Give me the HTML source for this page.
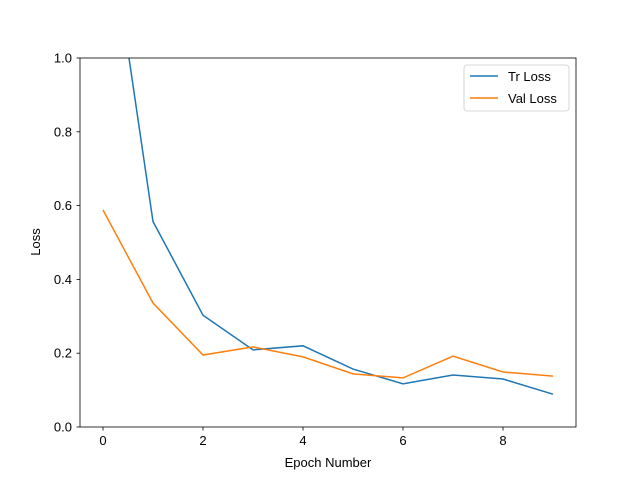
<!DOCTYPE html>
<html><head><meta charset="utf-8"><style>body{margin:0;background:#fff}svg{display:block;font-family:"Liberation Sans","DejaVu Sans",sans-serif}</style></head>
<body>
<svg id="chart" width="640" height="480">
<defs><clipPath id="clip"><rect x="80" y="58" width="496" height="369"/></clipPath></defs>
<rect x="0" y="0" width="640" height="480" fill="#fff"/>
<g id="axes"></g>
<g id="lines" clip-path="url(#clip)"></g>
<rect x="80" y="58" width="496" height="369" fill="none" stroke="#000" stroke-width="0.8"/>
<text x="328" y="467" text-anchor="middle" font-size="13">Epoch Number</text>
<text x="40" y="242" text-anchor="middle" font-size="13" transform="rotate(-90 40 242)">Loss</text>
<g>
<rect x="464" y="65" width="105" height="46" rx="3" fill="#fff" stroke="#ccc" stroke-width="0.8"/>
<line x1="470" y1="76" x2="498" y2="76" stroke="#1f77b4" stroke-width="1.5"/>
<text x="508" y="81" font-size="13">Tr Loss</text>
<line x1="470" y1="98" x2="498" y2="98" stroke="#ff7f0e" stroke-width="1.5"/>
<text x="508" y="103" font-size="13">Val Loss</text>
</g>
</svg>
<script>
const epochs=[0,1,2,3,4,5,6,7,8,9];
const trLoss=[1.48,0.557,0.303,0.209,0.22,0.157,0.117,0.141,0.13,0.089];
const valLoss=[0.588,0.336,0.195,0.217,0.19,0.144,0.133,0.192,0.149,0.138];
const xTicks=[0,2,4,6,8];
const yTicks=[0.0,0.2,0.4,0.6,0.8,1.0];
const NS="http://www.w3.org/2000/svg";
const X=v=>103+v*50, Y=v=>427-v*369;
const axes=document.getElementById('axes'), lines=document.getElementById('lines');
function mk(t,a,p){const e=document.createElementNS(NS,t);for(const k in a)e.setAttribute(k,a[k]);p.appendChild(e);return e;}
xTicks.forEach(t=>{
 const l=mk('line',{x1:X(t),x2:X(t),y1:427,y2:430.5,stroke:'#000','stroke-width':0.8},axes);
 
 
 const s=mk('text',{x:X(t),y:445,'text-anchor':'middle','font-size':13},axes);s.textContent=t;
 
 
});
yTicks.forEach(t=>{
 const l=mk('line',{x1:76.5,x2:80,y1:Y(t),y2:Y(t),stroke:'#000','stroke-width':0.8},axes);
 
 
 const s=mk('text',{x:72,y:Y(t)+4.5,'text-anchor':'end','font-size':13},axes);s.textContent=t.toFixed(1);
 
 
});
function series(vals,color,name){
 const p=mk('polyline',{points:epochs.map((e,i)=>X(e)+','+Y(vals[i])).join(' '),fill:'none',stroke:color,'stroke-width':1.5},lines);
 
 
}
series(trLoss,'#1f77b4','tr-loss-line');
series(valLoss,'#ff7f0e','val-loss-line');
</script>
</body></html>
